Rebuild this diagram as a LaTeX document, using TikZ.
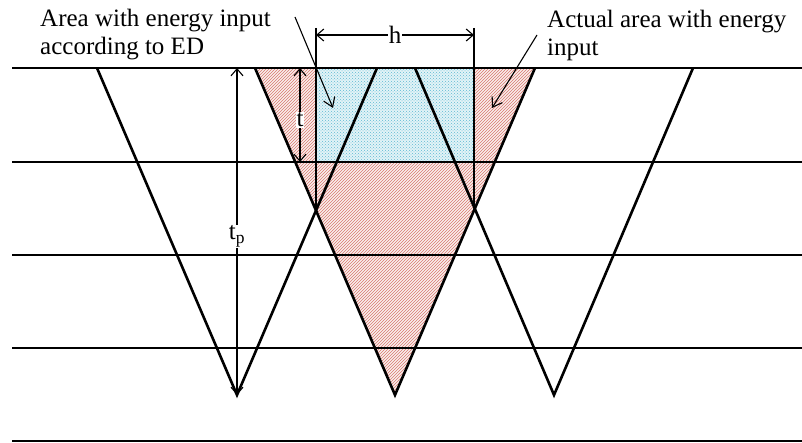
\documentclass[tikz,border=0pt]{standalone}
\usepackage{fontspec}
\setmainfont{Liberation Serif}
\usetikzlibrary{arrows.meta, patterns, calc}
\definecolor{hatchred}{RGB}{215, 120, 110}
\definecolor{hatchblue}{RGB}{95, 185, 210}

\begin{document}
\begin{tikzpicture}[
                x=1pt, y=-1pt,
                every node/.style={font=\fontsize{25}{28}\selectfont},
                layer/.style={line width=1.2pt},
                surface/.style={line width=2.6pt},
                track/.style={line width=2.6pt, line join=miter},
                extline/.style={line width=1.1pt},
                dimline/.style={line width=1.1pt, {Straight Barb[length=7pt, width=12pt]}-{Straight Barb[length=7pt, width=12pt]}},
                pointer/.style={line width=1.1pt, -{Straight Barb[length=9pt, width=12pt]}},
                dimlabel/.style={fill=white, inner sep=1pt},
                callout/.style={align=left, anchor=north west, inner sep=0pt}
            ]%
            \useasboundingbox (0,0) rectangle (802,443);
            %
            % Hatched areas
            \fill[hatchred!12] (255,68) -- (395,395) -- (535,68) -- cycle;
            \fill[pattern=north east lines, pattern color=hatchred] (255,68) -- (395,395) -- (535,68) -- cycle;
            \fill[hatchblue!18] (316,68) rectangle (474,162);
            \fill[pattern=crosshatch dots, pattern color=hatchblue] (316,68) rectangle (474,162);
            %
            % Layers
            \foreach \y in {162, 255, 348, 441}
                \draw[layer] (12,\y) -- (802,\y);
            \draw[surface] (12,68) -- (802,68);
            %
            % === Scan tracks ===
            \draw[track] (97,68) -- (237,395) -- (377,68);
            \draw[track] (255,68) -- (395,395) -- (535,68);
            \draw[track] (415,68) -- (554,395) -- (693,68);
            %
            % Rectangle according to ED
            \draw[line width=2pt] (316,68) -- (316,162);
            \draw[extline] (316,28) -- (316,208);
            \draw[extline] (474,28) -- (474,208);
            %
            % === Dimensions ===
            \draw[dimline] (316,35) -- node[dimlabel] (hlab) {h} (474,35);
            \draw[dimline] (300,68) -- node[dimlabel, yshift=-5pt] (tlab) {t} (300,162);
            \draw[dimline] (237,68) -- node[dimlabel, yshift=-5pt] (tplab) {t$_{\mathrm{p}}$} (237,395);
            %
            % === Callouts ===
            \node[callout] (edlab) at (40,9) {Area with energy input\\according to ED};
            \node[callout] (actlab) at (547,10) {Actual area with energy\\input};
            \coordinate (edtail) at (295,17);
            \coordinate (edtip) at (333,108);
            \coordinate (acttail) at (537,35);
            \coordinate (acttip) at (492,108);
            \draw[pointer] (edtail) -- (edtip);
            \draw[pointer] (acttail) -- (acttip);
        \end{tikzpicture}
\end{document}
